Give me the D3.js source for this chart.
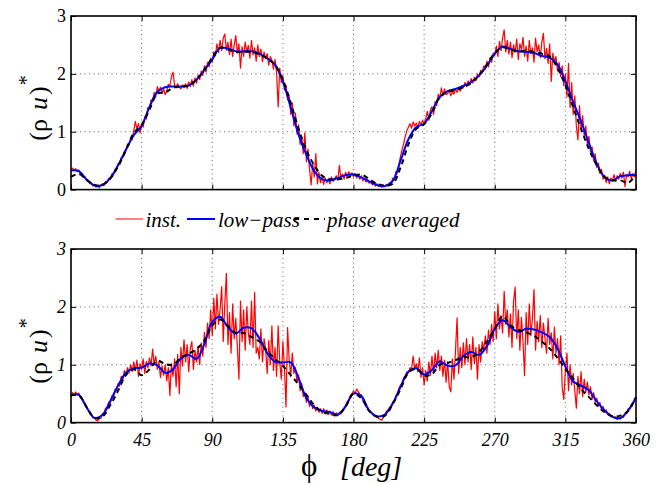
<!DOCTYPE html>
<html>
<head>
<meta charset="utf-8">
<script src="https://cdn.jsdelivr.net/npm/d3@7"></script>
<style>
  body { margin: 0; background: #fff; }
</style>
</head>
<body>
<svg id="chart" width="667" height="484" font-family="Liberation Serif"></svg>
<script>
// angle ticks and value ticks
const xTicks = [0, 45, 90, 135, 180, 225, 270, 315, 360];
const yTicks = [0, 1, 2, 3];
const instStep = 1;   // deg between instantaneous samples
const smoothStep = 5; // deg between low-pass / phase averaged samples

// upper panel
const instTop = [
  0.35,0.37,0.33,0.36,0.31,0.34,0.27,0.28,0.21,0.22,
  0.15,0.16,0.10,0.12,0.06,0.09,0.04,0.07,0.03,0.08,
  0.10,0.07,0.14,0.12,0.20,0.18,0.27,0.25,0.35,0.34,
  0.45,0.44,0.56,0.55,0.66,0.67,0.78,0.77,0.89,0.86,
  1.02,1.18,1.05,1.14,0.98,1.12,1.08,1.26,1.22,1.42,
  1.40,1.55,1.52,1.68,1.60,1.78,1.70,1.77,1.66,1.74,
  1.64,1.70,1.82,1.79,1.95,2.03,1.80,1.76,1.83,1.77,
  1.74,1.81,1.76,1.83,1.75,1.86,1.78,1.90,1.79,1.93,
  1.84,1.98,1.90,2.05,1.97,2.14,2.03,2.20,2.12,2.27,
  2.20,2.38,2.31,2.52,2.37,2.58,2.40,2.62,2.69,2.41,
  2.55,2.33,2.60,2.30,2.50,2.66,2.36,2.52,2.10,2.47,
  2.30,2.55,2.38,2.49,2.27,2.58,2.33,2.45,2.22,2.50,
  2.30,2.43,2.21,2.38,2.26,2.35,2.15,2.30,2.24,2.08,
  2.25,2.02,1.43,2.10,1.85,1.96,1.72,1.80,1.55,1.62,
  1.30,1.50,1.10,1.32,0.96,1.12,0.78,0.92,0.62,0.98,
  0.48,0.70,0.35,0.08,0.45,0.22,0.62,0.10,0.30,0.12,
  0.22,0.09,0.20,0.12,0.18,0.10,0.22,0.14,0.19,0.24,
  0.16,0.42,0.20,0.27,0.18,0.30,0.22,0.31,0.24,0.29,
  0.22,0.28,0.20,0.25,0.18,0.24,0.15,0.20,0.13,0.17,
  0.11,0.14,0.08,0.12,0.06,0.10,0.05,0.09,0.04,0.07,
  0.05,0.09,0.06,0.12,0.10,0.20,0.17,0.31,0.30,0.45,
  0.58,0.70,0.80,0.92,1.02,1.08,1.14,1.06,1.17,1.10,
  1.15,1.08,1.18,1.12,1.20,1.14,1.22,1.35,1.20,1.38,
  1.43,1.30,1.52,1.45,1.65,1.58,1.76,1.62,1.74,1.64,
  1.66,1.72,1.62,1.70,1.65,1.74,1.68,1.77,1.70,1.80,
  1.76,1.85,1.78,1.88,1.82,1.92,1.84,1.94,1.88,2.00,
  1.95,2.06,2.02,2.14,2.08,2.22,2.12,2.28,2.20,2.36,
  2.32,2.48,2.30,2.56,2.40,2.62,2.76,2.38,2.58,2.34,
  2.55,2.28,2.50,2.37,2.60,2.25,2.52,2.42,2.63,2.30,
  2.48,2.22,2.58,2.35,2.45,2.20,2.62,2.38,2.50,2.28,
  2.55,2.70,2.26,2.44,2.18,2.52,1.87,2.36,2.20,2.30,
  2.05,2.20,1.95,2.14,1.80,2.00,1.60,2.18,1.42,1.85,
  1.30,1.62,1.10,0.86,1.45,1.05,1.28,0.92,1.10,0.78,
  0.92,0.65,0.74,0.50,0.62,0.38,0.46,0.28,0.35,0.18,
  0.25,0.12,0.22,0.10,0.20,0.14,0.26,0.15,0.24,0.18,
  0.28,0.20,0.30,0.05,0.26,0.22,0.32,0.18,0.28,0.22,0.35
];
const lowTop = [
  0.33,0.32,0.17,0.07,0.08,0.20,0.42,0.69,0.94,1.10,
  1.43,1.69,1.77,1.78,1.78,1.80,1.90,2.07,2.25,2.45,
  2.44,2.39,2.39,2.39,2.35,2.27,2.16,1.87,1.42,0.95,
  0.60,0.32,0.18,0.16,0.20,0.25,0.26,0.21,0.14,0.08,
  0.06,0.15,0.50,0.87,1.08,1.14,1.36,1.60,1.70,1.74,
  1.79,1.86,1.97,2.14,2.35,2.47,2.43,2.39,2.38,2.36,
  2.31,2.28,2.16,1.87,1.51,1.18,0.80,0.45,0.21,0.16,
  0.23,0.25,0.25
];
const avgTop = [
  0.22,0.27,0.17,0.08,0.08,0.19,0.40,0.68,0.98,1.12,
  1.38,1.66,1.68,1.76,1.78,1.80,1.90,2.07,2.28,2.45,
  2.42,2.38,2.38,2.38,2.34,2.27,2.15,1.90,1.50,1.05,
  0.68,0.42,0.24,0.18,0.18,0.20,0.24,0.26,0.18,0.10,
  0.07,0.10,0.38,0.78,1.05,1.13,1.32,1.60,1.69,1.72,
  1.77,1.84,1.98,2.16,2.36,2.46,2.42,2.39,2.40,2.38,
  2.35,2.30,2.10,1.80,1.42,1.05,0.70,0.42,0.22,0.16,
  0.16,0.12,0.25
];

// lower panel
const instBottom = [
  0.44,0.52,0.47,0.53,0.48,0.51,0.43,0.42,0.34,0.33,
  0.24,0.23,0.15,0.14,0.08,0.09,0.04,0.03,0.08,0.07,
  0.15,0.16,0.25,0.24,0.36,0.33,0.46,0.44,0.57,0.55,
  0.68,0.63,0.80,0.72,0.90,0.82,0.95,0.86,1.00,0.88,
  1.05,0.90,1.08,0.80,1.02,0.92,1.10,0.85,1.06,0.95,
  1.12,0.98,1.27,1.00,1.15,0.92,1.05,0.78,0.98,0.82,
  1.00,0.72,0.95,0.47,1.02,0.80,1.10,0.62,1.18,0.50,
  1.30,0.98,1.43,1.05,1.35,0.88,1.28,1.40,0.92,1.25,
  1.05,1.32,1.00,1.38,1.15,1.56,1.30,1.72,1.45,1.95,
  1.50,2.15,1.62,2.22,1.70,1.95,2.35,1.40,2.05,2.58,
  1.35,1.90,1.20,2.05,1.45,1.80,1.30,0.75,2.10,1.40,
  1.95,1.25,2.00,1.55,1.35,2.10,1.30,2.25,1.20,1.30,
  1.10,1.62,1.05,1.45,1.28,0.85,1.42,1.00,1.67,0.90,
  1.30,0.80,1.67,1.05,0.75,1.40,0.95,0.27,1.64,1.10,
  0.80,1.20,0.85,0.95,0.70,0.82,0.55,0.68,0.45,0.52,
  0.35,0.45,0.28,0.38,0.24,0.30,0.20,0.26,0.18,0.24,
  0.16,0.24,0.15,0.22,0.14,0.20,0.13,0.19,0.11,0.17,
  0.12,0.18,0.15,0.22,0.25,0.30,0.36,0.40,0.47,0.50,
  0.55,0.50,0.58,0.54,0.49,0.48,0.37,0.36,0.27,0.26,
  0.20,0.18,0.14,0.12,0.10,0.10,0.07,0.06,0.04,0.09,
  0.12,0.20,0.22,0.27,0.26,0.36,0.35,0.47,0.48,0.60,
  0.65,0.66,0.78,0.80,0.88,0.86,0.95,0.92,1.15,0.93,
  1.02,0.88,1.12,0.78,0.95,0.65,0.90,0.72,1.05,0.82,
  1.15,0.85,1.20,0.95,1.25,0.90,1.15,0.80,1.08,0.70,
  1.05,0.62,0.53,1.10,0.75,1.25,1.81,0.85,1.30,0.95,
  1.38,1.00,1.45,1.05,1.35,0.92,1.48,1.02,1.30,0.75,
  1.35,1.05,1.40,1.25,1.50,1.20,1.60,1.35,1.70,1.40,
  1.92,1.45,2.05,1.62,1.85,1.55,2.27,1.70,1.95,1.48,
  1.88,1.30,2.10,2.34,1.45,1.95,1.25,1.82,1.40,0.81,
  1.90,1.35,2.05,1.50,1.80,2.30,1.25,1.75,1.40,1.85,
  1.30,1.72,1.45,1.20,1.80,1.35,1.55,1.10,1.65,1.20,
  1.45,1.00,1.50,0.60,0.40,0.90,1.20,0.55,1.00,0.65,
  0.85,0.55,0.25,0.80,0.50,0.88,0.45,0.75,0.52,0.70,
  0.48,0.62,0.40,0.52,0.35,0.42,0.28,0.35,0.22,0.28,
  0.18,0.22,0.14,0.16,0.10,0.12,0.08,0.10,0.05,0.08,
  0.06,0.10,0.09,0.15,0.16,0.24,0.23,0.32,0.33,0.41,0.44
];
const lowBottom = [
  0.47,0.48,0.26,0.08,0.13,0.37,0.64,0.86,0.94,0.95,
  1.02,0.99,0.86,0.92,1.11,1.17,1.10,1.36,1.74,1.83,
  1.65,1.54,1.64,1.63,1.46,1.20,1.05,1.04,1.04,0.77,
  0.42,0.26,0.20,0.18,0.14,0.28,0.50,0.46,0.21,0.11,
  0.14,0.33,0.62,0.88,0.94,0.83,0.91,1.06,0.98,0.99,
  1.15,1.22,1.17,1.32,1.62,1.77,1.65,1.57,1.62,1.61,
  1.56,1.48,1.28,0.97,0.71,0.64,0.56,0.37,0.21,0.10,
  0.08,0.21,0.43
];
const avgBottom = [
  0.47,0.47,0.27,0.08,0.10,0.30,0.55,0.82,0.92,0.82,
  0.92,1.07,1.01,1.00,1.12,1.19,1.27,1.42,1.68,1.78,
  1.67,1.55,1.55,1.48,1.40,1.24,1.10,0.98,0.82,0.66,
  0.48,0.30,0.19,0.15,0.13,0.28,0.50,0.42,0.20,0.10,
  0.12,0.32,0.58,0.86,0.93,0.81,0.84,1.00,1.03,1.08,
  1.13,1.13,1.22,1.40,1.62,1.84,1.68,1.60,1.56,1.50,
  1.40,1.28,1.12,0.93,0.76,0.58,0.44,0.30,0.18,0.11,
  0.12,0.20,0.44
];

const svg = d3.select("#chart");
svg.append("rect").attr("width", 667).attr("height", 484).attr("fill", "#fff");

const left = 71, right = 636, plotH = 173.6;

const x = d3.scaleLinear().domain([0, 360]).range([left, right]);

function toPoints(vals, step) {
  return vals.map((v, i) => ({ phi: i * step, v: v }));
}

function drawPanel(top, inst, low, avg, showX, italicY, labelCenter) {
  const y = d3.scaleLinear().domain([0, 3]).range([top + plotH, top]);
  const g = svg.append("g");

  // dotted grid
  g.selectAll(".gx")
    .data(xTicks.slice(1, -1))
    .enter().append("line")
      .attr("x1", d => x(d)).attr("x2", d => x(d))
      .attr("y1", top).attr("y2", top + plotH)
      .attr("stroke", "#666").attr("stroke-width", 1)
      .attr("stroke-dasharray", "1,3.5");
  g.selectAll(".gy")
    .data(yTicks.slice(1, -1))
    .enter().append("line")
      .attr("x1", left).attr("x2", right)
      .attr("y1", d => y(d)).attr("y2", d => y(d))
      .attr("stroke", "#666").attr("stroke-width", 1)
      .attr("stroke-dasharray", "1,3.5");

  const line = d3.line().x(d => x(d.phi)).y(d => y(d.v));
  const smooth = d3.line().x(d => x(d.phi)).y(d => y(d.v)).curve(d3.curveCatmullRom.alpha(0.5));

  g.append("path")
    .datum(toPoints(inst, instStep))
    .attr("fill", "none").attr("stroke", "#ff0000").attr("stroke-width", 1.2)
    .attr("stroke-linejoin", "round")
    .attr("d", line);
  g.append("path")
    .datum(toPoints(low, smoothStep))
    .attr("fill", "none").attr("stroke", "#0000ff").attr("stroke-width", 2)
    .attr("d", smooth);
  g.append("path")
    .datum(toPoints(avg, smoothStep))
    .attr("fill", "none").attr("stroke", "#000").attr("stroke-width", 2)
    .attr("stroke-dasharray", "5,4")
    .attr("d", smooth);

  // axes, ticks pointing inwards
  const xb = g.append("g").attr("transform", `translate(0,${top + plotH})`)
    .call(d3.axisBottom(x).tickValues(xTicks).tickSize(-5).tickPadding(11)
      .tickFormat(showX ? d3.format("d") : ""));
  g.append("g").attr("transform", `translate(0,${top})`)
    .call(d3.axisTop(x).tickValues(xTicks).tickSize(-5).tickFormat(""));
  const yl = g.append("g").attr("transform", `translate(${left},0)`)
    .call(d3.axisLeft(y).tickValues(yTicks).tickSize(-5).tickPadding(5).tickFormat(d3.format("d")));
  g.append("g").attr("transform", `translate(${right},0)`)
    .call(d3.axisRight(y).tickValues(yTicks).tickSize(-5).tickFormat(""));

  g.selectAll(".domain").remove();
  // d3 puts font-family="sans-serif" on the axis groups; drop it
  g.selectAll("g").attr("font-family", null);
  g.selectAll(".tick line").attr("stroke", "#000").attr("stroke-width", 1);
  xb.selectAll("text")
    .attr("font-family", "Liberation Serif")
    .attr("font-size", 18).attr("font-style", "italic").attr("fill", "#000");
  yl.selectAll("text")
    .attr("font-family", "Liberation Serif")
    .attr("font-size", 18).attr("font-style", italicY ? "italic" : "normal").attr("fill", "#000");

  g.append("rect")
    .attr("x", left).attr("y", top).attr("width", right - left).attr("height", plotH)
    .attr("fill", "none").attr("stroke", "#000").attr("stroke-width", 1.6);

  // y label (rho u)*
  const lab = g.append("text")
    .attr("transform", `translate(47,${labelCenter}) rotate(-90)`)
    .attr("text-anchor", "middle")
    .attr("font-family", "Liberation Serif")
    .attr("font-size", 26).attr("fill", "#000");
  lab.append("tspan").text("(ρ");
  lab.append("tspan").attr("dx", 9).attr("font-style", "italic").text("u");
  lab.append("tspan").attr("dx", 2).text(")");
  lab.append("tspan").attr("dy", -14).attr("dx", 1).attr("font-size", 20).text("*");
}

drawPanel(16, instTop, lowTop, avgTop, false, false, 108);
drawPanel(249, instBottom, lowBottom, avgBottom, true, true, 351);

// legend
const legendItems = [
  { name: "inst.", color: "#ff0000", width: 1, dash: null, x0: 115.5, x1: 143, tx: 145.5 },
  { name: "low−pass", color: "#0000ff", width: 2, dash: null, x0: 187, x1: 215, tx: 218 },
  { name: "phase averaged", color: "#000", width: 2, dash: "5,5", x0: 294, x1: 325, tx: 327 }
];
const legend = svg.append("g").attr("class", "legend");
legendItems.forEach(d => {
  legend.append("line")
    .attr("x1", d.x0).attr("x2", d.x1).attr("y1", 219).attr("y2", 219)
    .attr("stroke", d.color).attr("stroke-width", d.width)
    .attr("stroke-dasharray", d.dash);
  legend.append("text")
    .attr("x", d.tx).attr("y", 226.5)
    .attr("font-family", "Liberation Serif")
    .attr("font-size", 21).attr("font-style", "italic").attr("fill", "#000")
    .text(d.name);
});

// x label
const xl = svg.append("text").attr("x", 301).attr("y", 476).attr("fill", "#000")
  .attr("font-family", "Liberation Serif");
xl.append("tspan").attr("font-size", 31).text("ϕ");
xl.append("tspan").attr("x", 340).attr("font-size", 28).attr("font-style", "italic").text("[deg]");
</script>
</body>
</html>
